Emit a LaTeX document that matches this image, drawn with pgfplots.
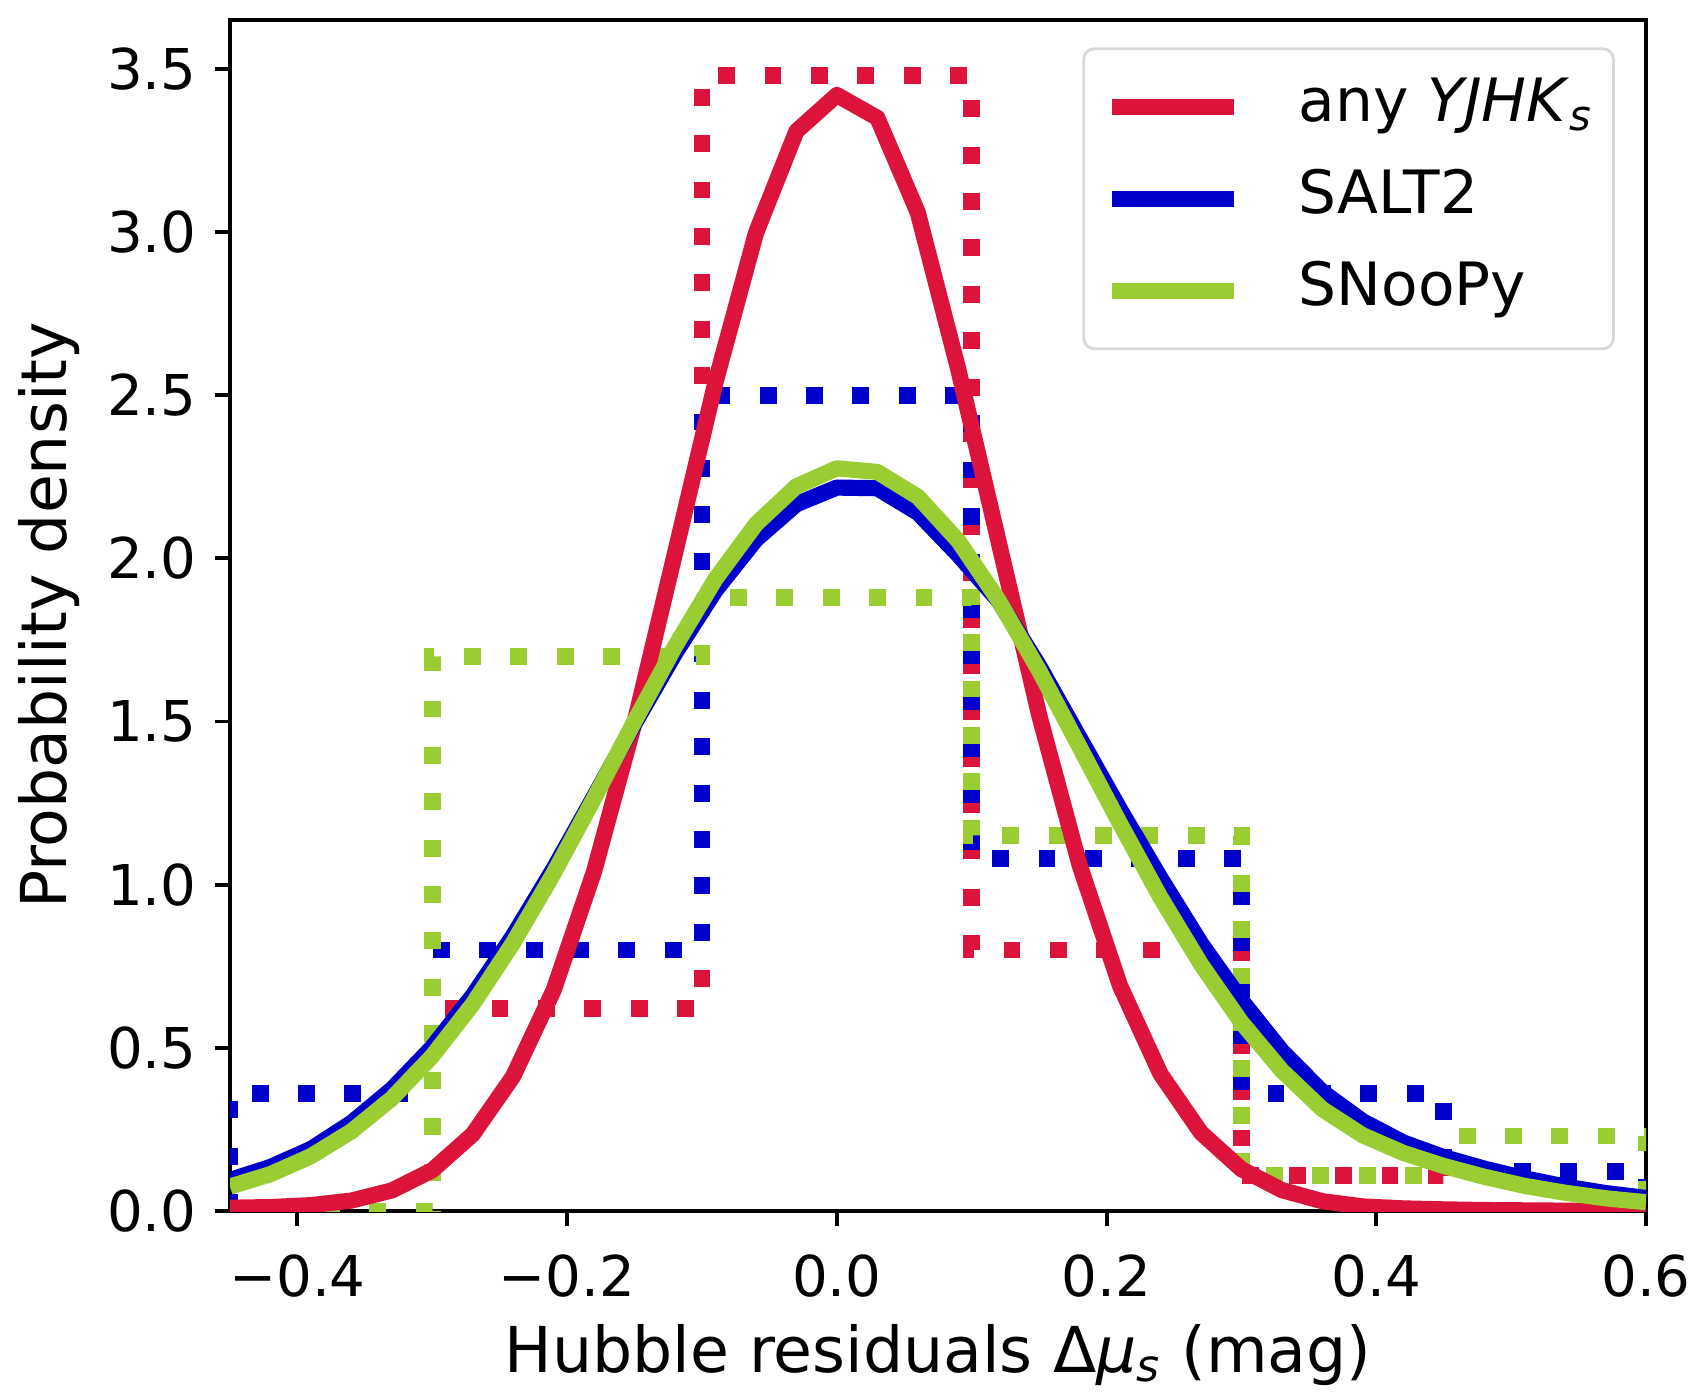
\documentclass[border=0pt]{standalone}
\usepackage{fontspec}
\setmainfont{DejaVu Sans}
\usepackage{pgfplots}
\pgfplotsset{compat=1.18}
\definecolor{cred}{RGB}{220,20,60}
\definecolor{cblue}{RGB}{0,0,205}
\definecolor{cgreen}{RGB}{154,205,50}
\begin{document}
\begin{tikzpicture}
\begin{axis}[
  width=14.16cm, height=11.91cm, scale only axis,
  xmin=-0.45, xmax=0.6, ymin=0, ymax=3.65,
  xtick={-0.4,-0.2,0,0.2,0.4,0.6},
  xticklabels={−0.4,−0.2,0.0,0.2,0.4,0.6},
  ytick={0,0.5,1,1.5,2,2.5,3,3.5},
  yticklabels={0.0,0.5,1.0,1.5,2.0,2.5,3.0,3.5},
  tick pos=left, tick align=outside, major tick length=1.5mm,
  every tick/.style={black, line width=1.1pt},
  axis line style={line width=1.1pt},
  ticklabel style={font=\fontsize{16}{19}\selectfont},
  xticklabel style={yshift=-1.6mm},
  yticklabel style={xshift=-0.6mm},
  xlabel={Hubble residuals Δ\textit{μ}\textsubscript{\textit{s}} (mag)},
  ylabel={Probability density},
  label style={font=\fontsize{18}{22}\selectfont},
  xlabel style={at={(axis description cs:0.5,-0.121)}, anchor=center},
  ylabel style={at={(axis description cs:-0.128,0.5)}, anchor=center},
  legend style={at={(axis description cs:0.978,0.977)}, anchor=north east,
    draw=black!15, line width=0.8pt, rounded corners=3pt,
    font=\fontsize{17}{20}\selectfont,
    inner xsep=2mm, inner ysep=2.8mm, row sep=3.2mm, column sep=5.7mm,
    nodes={inner sep=0pt, text height=4.5mm, text depth=1.5mm}},
  legend cell align=left,
  legend image code/.code={\draw[#1] (0cm,0cm) -- (1.22cm,0cm);},
  hist/.style={line width=4.8pt, dash pattern=on 4.8pt off 8.4pt, line cap=butt, forget plot},
  curve/.style={line width=4.6pt, line join=round},
]
% histograms
\addplot[hist, cred] coordinates {
(-0.45,0) (-0.3,0) (-0.3,0.62) (-0.1,0.62) (-0.1,3.48) (0.1,3.48) (0.1,0.8) (0.3,0.8)
(0.3,0.11) (0.45,0.11) (0.45,0) (0.6,0)};
\addplot[hist, cblue] coordinates {
(-0.45,0) (-0.45,0.36) (-0.3,0.36) (-0.3,0.8) (-0.1,0.8) (-0.1,2.5) (0.1,2.5) (0.1,1.08)
(0.3,1.08) (0.3,0.36) (0.45,0.36) (0.45,0.12) (0.6,0.12) (0.6,0)};
\addplot[hist, cgreen] coordinates {
(-0.45,0) (-0.3,0) (-0.3,1.7) (-0.1,1.7) (-0.1,1.88) (0.1,1.88) (0.1,1.15) (0.3,1.15)
(0.3,0.11) (0.45,0.11) (0.45,0.23) (0.6,0.23) (0.6,0)};
% curves
\addplot[curve, cred] coordinates {
(-0.45,0.010) (-0.42,0.012) (-0.39,0.018) (-0.36,0.032) (-0.33,0.063) (-0.30,0.125)
(-0.27,0.235) (-0.24,0.413) (-0.21,0.677) (-0.18,1.041) (-0.15,1.497) (-0.12,2.016)
(-0.09,2.540) (-0.06,2.997) (-0.03,3.309) (0.00,3.420) (0.03,3.350) (0.06,3.060)
(0.09,2.580) (0.12,2.050) (0.15,1.520) (0.18,1.060) (0.21,0.690) (0.24,0.420)
(0.27,0.240) (0.30,0.128) (0.33,0.064) (0.36,0.030) (0.39,0.014) (0.42,0.008)
(0.45,0.005) (0.48,0.003) (0.51,0.002) (0.54,0.001) (0.57,0.001) (0.60,0.000)};
\addlegendentry{any \textit{YJHK}\textsubscript{\textit{s}}}
\addplot[curve, cblue] coordinates {
(-0.45,0.095) (-0.42,0.135) (-0.39,0.190) (-0.36,0.270) (-0.33,0.373) (-0.30,0.502)
(-0.27,0.660) (-0.24,0.844) (-0.21,1.049) (-0.18,1.270) (-0.15,1.494) (-0.12,1.709)
(-0.09,1.902) (-0.06,2.058) (-0.03,2.166) (0.00,2.217) (0.03,2.215) (0.06,2.140)
(0.09,2.011) (0.12,1.870) (0.15,1.670) (0.18,1.450) (0.21,1.230) (0.24,1.020)
(0.27,0.820) (0.30,0.645) (0.33,0.490) (0.36,0.365) (0.39,0.275) (0.42,0.210)
(0.45,0.165) (0.48,0.130) (0.51,0.100) (0.54,0.075) (0.57,0.055) (0.60,0.040)};
\addlegendentry{SALT2}
\addplot[curve, cgreen] coordinates {
(-0.45,0.075) (-0.42,0.113) (-0.39,0.168) (-0.36,0.244) (-0.33,0.345) (-0.30,0.475)
(-0.27,0.634) (-0.24,0.822) (-0.21,1.035) (-0.18,1.265) (-0.15,1.501) (-0.12,1.730)
(-0.09,1.937) (-0.06,2.105) (-0.03,2.221) (0.00,2.276) (0.03,2.265) (0.06,2.189)
(0.09,2.054) (0.12,1.871) (0.15,1.656) (0.18,1.422) (0.21,1.187) (0.24,0.961)
(0.27,0.756) (0.30,0.578) (0.33,0.430) (0.36,0.312) (0.39,0.232) (0.42,0.178)
(0.45,0.138) (0.48,0.105) (0.51,0.077) (0.54,0.056) (0.57,0.039) (0.60,0.027)};
\addlegendentry{SNooPy}
\coordinate (SW) at (rel axis cs:0,0);
\coordinate (NE) at (rel axis cs:1,1);
\end{axis}
\path (SW) ++(-23mm,-18.7mm);
\path (NE) ++(5.9mm,2mm);
\end{tikzpicture}
\end{document}
